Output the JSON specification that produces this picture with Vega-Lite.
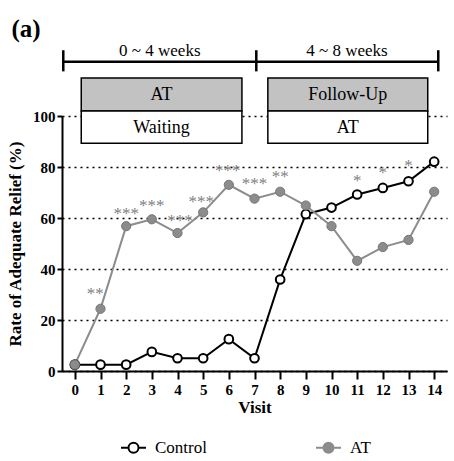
{
  "$schema": "https://vega.github.io/schema/vega-lite/v6.json",
  "width": 385,
  "height": 255,
  "autosize": {"type": "none"},
  "padding": {"left": 62, "top": 116, "right": 7, "bottom": 90},
  "config": {
    "view": {"stroke": null},
    "font": "Times New Roman, Times, Liberation Serif, DejaVu Serif, Noto Serif, serif"
  },
  "datasets": {
    "series": [
      {"visit": 0, "group": "Control", "rate": 2.5},
      {"visit": 1, "group": "Control", "rate": 2.5},
      {"visit": 2, "group": "Control", "rate": 2.5},
      {"visit": 3, "group": "Control", "rate": 7.5},
      {"visit": 4, "group": "Control", "rate": 5},
      {"visit": 5, "group": "Control", "rate": 5},
      {"visit": 6, "group": "Control", "rate": 12.5},
      {"visit": 7, "group": "Control", "rate": 5},
      {"visit": 8, "group": "Control", "rate": 35.9},
      {"visit": 9, "group": "Control", "rate": 61.5},
      {"visit": 10, "group": "Control", "rate": 64.1},
      {"visit": 11, "group": "Control", "rate": 69.2},
      {"visit": 12, "group": "Control", "rate": 71.8},
      {"visit": 13, "group": "Control", "rate": 74.4},
      {"visit": 14, "group": "Control", "rate": 82.1},
      {"visit": 0, "group": "AT", "rate": 2.5},
      {"visit": 1, "group": "AT", "rate": 24.4},
      {"visit": 2, "group": "AT", "rate": 56.8},
      {"visit": 3, "group": "AT", "rate": 59.5},
      {"visit": 4, "group": "AT", "rate": 54.1},
      {"visit": 5, "group": "AT", "rate": 62.2},
      {"visit": 6, "group": "AT", "rate": 73},
      {"visit": 7, "group": "AT", "rate": 67.6},
      {"visit": 8, "group": "AT", "rate": 70.3},
      {"visit": 9, "group": "AT", "rate": 64.9},
      {"visit": 10, "group": "AT", "rate": 56.8},
      {"visit": 11, "group": "AT", "rate": 43.2},
      {"visit": 12, "group": "AT", "rate": 48.6},
      {"visit": 13, "group": "AT", "rate": 51.4},
      {"visit": 14, "group": "AT", "rate": 70.3}
    ],
    "grayBoxes": [
      {"visit": 0.25, "visit_end": 6.51, "rate": 102, "rate_end": 114.9},
      {"visit": 7.52, "visit_end": 13.75, "rate": 102, "rate_end": 114.9}
    ],
    "whiteBoxes": [
      {"visit": 0.25, "visit_end": 6.51, "rate": 89.3, "rate_end": 102},
      {"visit": 7.52, "visit_end": 13.75, "rate": 89.3, "rate_end": 102}
    ],
    "boxLabels": [
      {"visit": 3.38, "rate": 108.2, "label": "AT"},
      {"visit": 10.63, "rate": 108.2, "label": "Follow-Up"},
      {"visit": 3.38, "rate": 95.4, "label": "Waiting"},
      {"visit": 10.63, "rate": 95.4, "label": "AT"}
    ],
    "timeline": [
      {"visit": -0.45, "visit_end": 14.16, "rate": 121.3}
    ],
    "timelineTicks": [
      {"visit": -0.45, "rate": 117.5, "rate_end": 125.8},
      {"visit": 7.07, "rate": 117.5, "rate_end": 125.8},
      {"visit": 14.16, "rate": 117.5, "rate_end": 125.8}
    ],
    "timelineLabels": [
      {"visit": 3.31, "rate": 125.6, "label": "0 ~ 4 weeks"},
      {"visit": 10.6, "rate": 125.6, "label": "4 ~ 8 weeks"}
    ],
    "panel": [
      {"visit": -1.9, "rate": 134, "label": "(a)"}
    ],
    "stars": [
      {"visit": 0.8, "rate": 28.4, "label": "**"},
      {"visit": 2, "rate": 59.7, "label": "***"},
      {"visit": 3, "rate": 62.9, "label": "***"},
      {"visit": 4.1, "rate": 57, "label": "***"},
      {"visit": 4.93, "rate": 64.4, "label": "***"},
      {"visit": 5.96, "rate": 76.6, "label": "***"},
      {"visit": 7, "rate": 71.2, "label": "***"},
      {"visit": 8, "rate": 74, "label": "**"},
      {"visit": 11, "rate": 72.6, "label": "*"},
      {"visit": 12, "rate": 75.8, "label": "*"},
      {"visit": 13, "rate": 78.5, "label": "*"}
    ]
  },
  "encoding": {
    "x": {
      "field": "visit",
      "type": "quantitative",
      "scale": {"domain": [-0.5, 14.5], "nice": false, "zero": false},
      "axis": {
        "title": "Visit",
        "values": [0,1,2,3,4,5,6,7,8,9,10,11,12,13,14],
        "grid": false,
        "domainColor": "black",
        "domainWidth": 2,
        "tickColor": "black",
        "tickWidth": 2,
        "tickSize": 8,
        "labelFont": "Times New Roman, Times, Liberation Serif, DejaVu Serif, Noto Serif, serif",
        "labelFontWeight": "bold",
        "labelFontSize": 15,
        "labelColor": "black",
        "labelPadding": 3,
        "titleFont": "Times New Roman, Times, Liberation Serif, DejaVu Serif, Noto Serif, serif",
        "titleFontWeight": "bold",
        "titleFontSize": 17,
        "titleColor": "black",
        "titlePadding": 2
      }
    },
    "y": {
      "field": "rate",
      "type": "quantitative",
      "scale": {"domain": [0, 100], "nice": false},
      "axis": {
        "title": "Rate of Adequate Relief (%)",
        "values": [0, 20, 40, 60, 80, 100],
        "grid": true,
        "gridColor": "black",
        "gridDash": [2, 4],
        "gridWidth": 1.3,
        "domainColor": "black",
        "domainWidth": 2,
        "tickColor": "black",
        "tickWidth": 2,
        "tickSize": 5,
        "labelFont": "Times New Roman, Times, Liberation Serif, DejaVu Serif, Noto Serif, serif",
        "labelFontWeight": "bold",
        "labelFontSize": 15,
        "labelColor": "black",
        "labelPadding": 2,
        "titleFont": "Times New Roman, Times, Liberation Serif, DejaVu Serif, Noto Serif, serif",
        "titleFontWeight": "bold",
        "titleFontSize": 17,
        "titleColor": "black",
        "titlePadding": 8
      }
    }
  },
  "layer": [
    {
      "data": {"name": "grayBoxes"},
      "mark": {"type": "rect", "fill": "#c2c2c2", "stroke": "black", "strokeWidth": 1.5},
      "encoding": {"x2": {"field": "visit_end"}, "y2": {"field": "rate_end"}}
    },
    {
      "data": {"name": "whiteBoxes"},
      "mark": {"type": "rect", "fill": "white", "stroke": "black", "strokeWidth": 1.5},
      "encoding": {"x2": {"field": "visit_end"}, "y2": {"field": "rate_end"}}
    },
    {
      "data": {"name": "boxLabels"},
      "mark": {"type": "text", "fontSize": 18, "color": "black", "baseline": "middle", "align": "center"},
      "encoding": {"text": {"field": "label"}}
    },
    {
      "data": {"name": "timeline"},
      "mark": {"type": "rule", "color": "black", "strokeWidth": 2.5},
      "encoding": {"x2": {"field": "visit_end"}}
    },
    {
      "data": {"name": "timelineTicks"},
      "mark": {"type": "rule", "color": "black", "strokeWidth": 2.5},
      "encoding": {"y2": {"field": "rate_end"}}
    },
    {
      "data": {"name": "timelineLabels"},
      "mark": {"type": "text", "fontSize": 17, "color": "black", "baseline": "middle", "align": "center"},
      "encoding": {"text": {"field": "label"}}
    },
    {
      "data": {"name": "panel"},
      "mark": {"type": "text", "fontSize": 25, "fontWeight": "bold", "color": "black", "baseline": "middle", "align": "center"},
      "encoding": {"text": {"field": "label"}}
    },
    {
      "data": {"name": "series"},
      "mark": {"type": "line", "strokeWidth": 2},
      "encoding": {
        "color": {
          "field": "group",
          "type": "nominal",
          "scale": {"domain": ["Control", "AT"], "range": ["black", "#8c8c8c"]},
          "legend": {
            "title": null,
            "orient": "none",
            "legendX": 58,
            "legendY": 318,
            "direction": "horizontal",
            "padding": 0,
            "symbolType": "M-1,0H-0.4M0.4,0H1M-0.4,0A0.4,0.4 0 1 1 0.4,0A0.4,0.4 0 1 1 -0.4,0",
            "symbolSize": 625,
            "symbolStrokeWidth": 2,
            "symbolOpacity": 1,
            "labelFont": "Times New Roman, Times, Liberation Serif, DejaVu Serif, Noto Serif, serif",
            "labelFontSize": 17,
            "labelColor": "black",
            "labelOffset": 8,
            "columnPadding": 105,
            "encode": {
              "symbols": {
                "update": {
                  "fill": {"signal": "datum.value === 'Control' ? 'white' : '#8c8c8c'"}
                }
              }
            }
          }
        }
      }
    },
    {
      "data": {"name": "series"},
      "transform": [{"filter": "datum.group === 'Control'"}],
      "mark": {"type": "point", "shape": "circle", "fill": "white", "stroke": "black", "strokeWidth": 2, "size": 75, "opacity": 1, "filled": false}
    },
    {
      "data": {"name": "series"},
      "transform": [{"filter": "datum.group === 'AT'"}],
      "mark": {"type": "point", "shape": "circle", "fill": "#8c8c8c", "stroke": "#777777", "strokeWidth": 1, "size": 85, "opacity": 1, "filled": true}
    },
    {
      "data": {"name": "stars"},
      "mark": {"type": "text", "fontSize": 17, "color": "#7f7f7f", "baseline": "alphabetic", "align": "center"},
      "encoding": {"text": {"field": "label"}}
    }
  ]
}
